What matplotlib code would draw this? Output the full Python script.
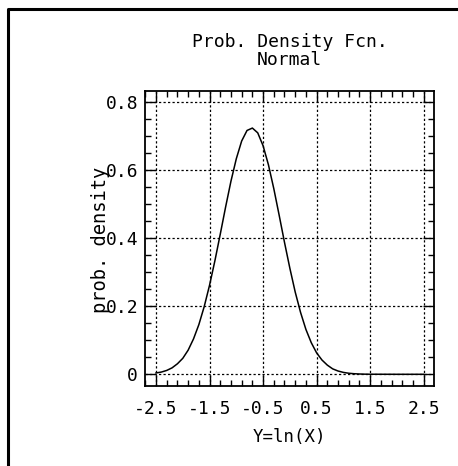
import matplotlib
matplotlib.use("Agg")
import matplotlib.pyplot as plt
from matplotlib.lines import Line2D
from matplotlib.ticker import MultipleLocator, FixedLocator

# Data
y_ln_x = [-2.5, -2.4, -2.3, -2.2, -2.1, -2.0, -1.9, -1.8, -1.7, -1.6,
          -1.5, -1.4, -1.3, -1.2, -1.1, -1.0, -0.9, -0.8, -0.7, -0.6,
          -0.5, -0.4, -0.3, -0.2, -0.1, 0.0, 0.1, 0.2, 0.3, 0.4,
          0.5, 0.6, 0.7, 0.8, 0.9, 1.0, 1.1, 1.2, 1.3, 1.4,
          1.5, 2.0, 2.5]
prob_density = [0.004, 0.0066, 0.0114, 0.019, 0.031, 0.047, 0.071, 0.104, 0.146, 0.199,
                0.262, 0.334, 0.412, 0.492, 0.568, 0.634, 0.686, 0.717, 0.724, 0.710,
                0.672, 0.616, 0.546, 0.468, 0.388, 0.312, 0.242, 0.182, 0.132, 0.093,
                0.063, 0.042, 0.027, 0.016, 0.0097, 0.0056, 0.0031, 0.0017, 0.0009, 0.0004,
                0.0002, 0.0, 0.0]

x_ticks = [-2.5, -1.5, -0.5, 0.5, 1.5, 2.5]
x_tick_labels = ["-2.5", "-1.5", "-0.5", "0.5", "1.5", "2.5"]
y_ticks = [0.0, 0.2, 0.4, 0.6, 0.8]
y_tick_labels = ["0", "0.2", "0.4", "0.6", "0.8"]

title_text = "Prob. Density Fcn.\nNormal"
x_label = "Y=ln(X)"
y_label = "prob. density"

W, H = 458, 466
fig = plt.figure(figsize=(W / 100, H / 100), dpi=100)
font = "DejaVu Sans Mono"

ax = fig.add_axes([145 / W, 1 - 386 / H, (434 - 145) / W, (386 - 91) / H])
ax.plot(y_ln_x, prob_density, color="black", lw=1.1)

ax.set_xlim(-2.706, 2.693)
ax.set_ylim(-0.0344, 0.833)

ax.xaxis.set_major_locator(FixedLocator(x_ticks))
ax.set_xticklabels(x_tick_labels, family=font, fontsize=13)
ax.yaxis.set_major_locator(FixedLocator(y_ticks))
ax.set_yticklabels(y_tick_labels, family=font, fontsize=13)
ax.xaxis.set_minor_locator(FixedLocator([-2.7 + 0.2 * i for i in range(28)]))
ax.yaxis.set_minor_locator(MultipleLocator(0.05))

ax.tick_params(which="both", direction="in", top=True, right=True, color="black")
ax.tick_params(which="major", length=8, width=1)
ax.tick_params(which="minor", length=4, width=1)
ax.tick_params(axis="x", which="major", pad=10)
ax.tick_params(axis="y", which="major", pad=5)

ax.grid(True, which="major", color="black", linestyle=(0, (1.8, 1.8)), lw=0.9)
for s in ax.spines.values():
    s.set_linewidth(1.3)

fig.text(289.5 / W, 1 - 51 / H, title_text, ha="center", va="center",
         family=font, fontsize=13, linespacing=0.95)
fig.text(289 / W, 1 - 437 / H, x_label, ha="center", va="center",
         family=font, fontsize=12.5)
fig.text(100 / W, 1 - 240 / H, y_label, ha="center", va="center",
         rotation=90, family=font, fontsize=13.5)

# outer frame (left and top edges)
fig.add_artist(Line2D([8 / W, 8 / W, 1.0], [0.0, 1 - 9 / H, 1 - 9 / H],
                      transform=fig.transFigure, color="black", lw=2.2))

fig.savefig("out.png", dpi=100)
